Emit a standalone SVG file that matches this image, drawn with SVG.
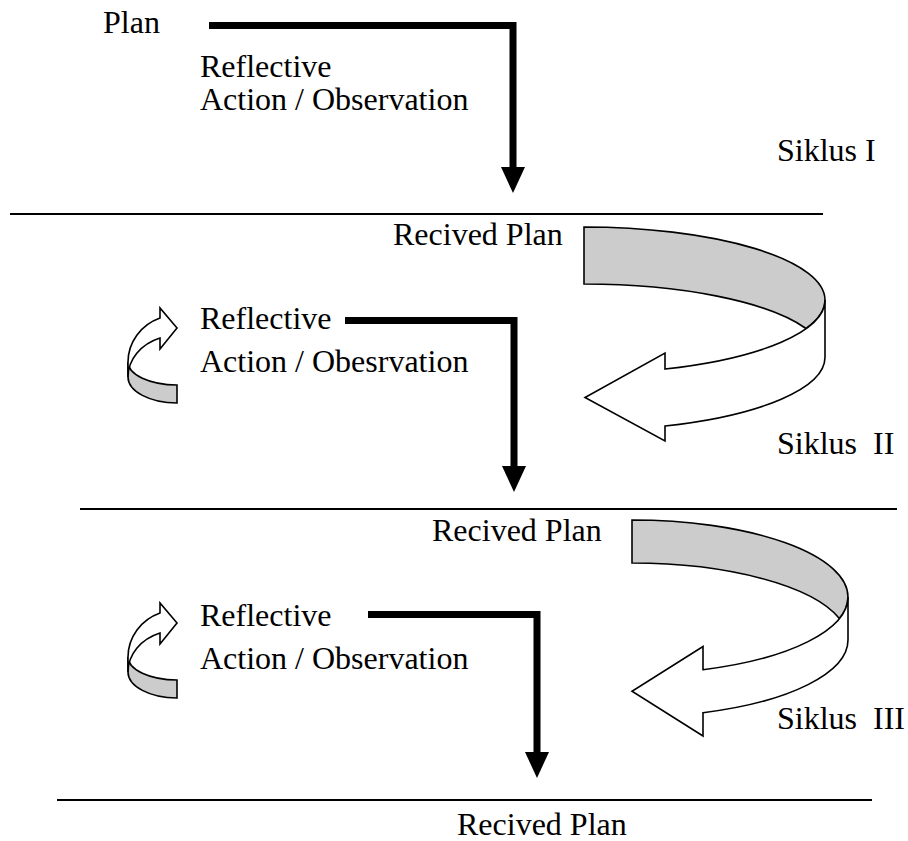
<svg xmlns="http://www.w3.org/2000/svg" width="908" height="841" viewBox="0 0 908 841">
<style>
text{font-family:"Liberation Serif","Times New Roman",Times,Tinos,"DejaVu Serif","Noto Serif",serif;font-size:32px;fill:#000;white-space:pre}
.rule{stroke:#000;stroke-width:2;fill:none}
.flow{stroke:#000;stroke-width:7;fill:none;stroke-linejoin:miter;stroke-linecap:butt}
.back{fill:#cccccc;stroke:#000;stroke-width:1.6;stroke-linejoin:miter}
.front{fill:#fff;stroke:#000;stroke-width:1.6;stroke-linejoin:miter}
</style>
<defs>
<marker id="ah" markerUnits="userSpaceOnUse" viewBox="0 0 26 24" markerWidth="26" markerHeight="24" refX="2" refY="12" orient="auto">
<path d="M0,0 L26,12 L0,24 Z" fill="#000"/>
</marker>
<g id="smallArrow">
<path class="back" d="M177,385 A49,23 0 0 1 128,362 L128,377 A49,26 0 0 0 177,403 Z"/>
<path class="front" d="M128,377 L128,362 A49,47 0 0 1 160,318 L160,308 L177,328 L160,349 L160,338 A49,41.6 0 0 0 128,377 Z"/>
</g>
</defs>
<rect width="908" height="841" fill="#fff"/>

<g id="rules">
<line class="rule" x1="10" y1="214" x2="823" y2="214"/>
<line class="rule" x1="80" y1="509" x2="897" y2="509"/>
<line class="rule" x1="57" y1="800" x2="872" y2="800"/>
</g>

<g id="connectors">
<path class="flow" d="M209,25.5 H513 V169" marker-end="url(#ah)"/>
<path class="flow" d="M345,320.5 H514 V468" marker-end="url(#ah)"/>
<path class="flow" d="M368,614.5 H537 V754" marker-end="url(#ah)"/>
</g>

<g id="cycle1-to-2">
<path class="back" d="M584,227 A241,73 0 0 1 825,300 A241,73 0 0 1 806,328.5 A241,73 0 0 0 584,284 Z"/>
<path class="front" d="M825,300 L825,357 A241,73 0 0 1 665,426 L665,441 L585,397.5 L665,353 L665,369 A241,73 0 0 0 825,300 Z"/>
</g>

<g id="cycle2-to-3">
<path class="back" d="M632,520 A216,77 0 0 1 848,597 A216,77 0 0 1 839.4,618.5 A216,77 0 0 0 632,563 Z"/>
<path class="front" d="M848,597 L848,640 A216,77 0 0 1 703,712.7 L703,736 L632,691.2 L703,646.5 L703,669.7 A216,77 0 0 0 848,597 Z"/>
</g>

<g id="small-arrow-2"><use href="#smallArrow"/></g>
<g id="small-arrow-3"><use href="#smallArrow" transform="translate(0,295)"/></g>

<g id="plan"><text x="103" y="33" font-family="Liberation Serif, serif">Plan</text></g>
<g id="cycle1-text">
<text x="200" y="77" font-family="Liberation Serif, serif">Reflective</text>
<text x="200" y="110" font-family="Liberation Serif, serif">Action / Observation</text>
</g>
<g id="siklus1"><text x="777" y="161" font-family="Liberation Serif, serif">Siklus I</text></g>
<g id="recived1"><text x="393" y="245" font-family="Liberation Serif, serif">Recived Plan</text></g>

<g id="cycle2-text">
<text x="200" y="329" font-family="Liberation Serif, serif">Reflective</text>
<text x="200" y="372" font-family="Liberation Serif, serif">Action / Obesrvation</text>
</g>
<g id="siklus2"><text x="777" y="454" font-family="Liberation Serif, serif">Siklus  II</text></g>
<g id="recived2"><text x="432" y="541" font-family="Liberation Serif, serif">Recived Plan</text></g>

<g id="cycle3-text">
<text x="200" y="626" font-family="Liberation Serif, serif">Reflective</text>
<text x="200" y="669" font-family="Liberation Serif, serif">Action / Observation</text>
</g>
<g id="siklus3"><text x="777" y="729" font-family="Liberation Serif, serif">Siklus  III</text></g>
<g id="recived3"><text x="457" y="835" font-family="Liberation Serif, serif">Recived Plan</text></g>
</svg>
